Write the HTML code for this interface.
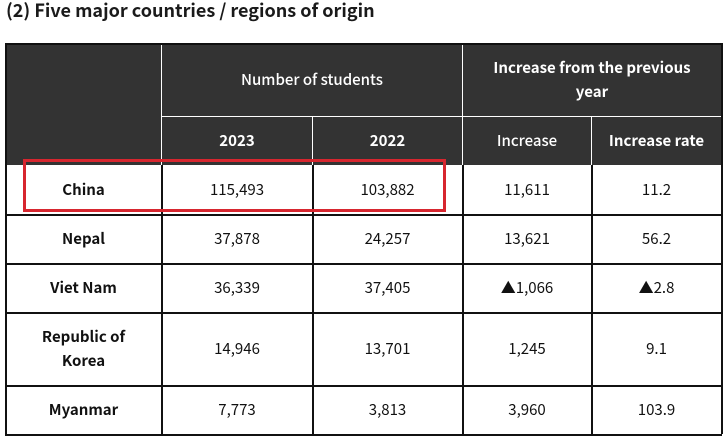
<!DOCTYPE html>
<html><head><meta charset="utf-8"><style>
html,body{margin:0;padding:0;background:#fff;width:725px;height:440px;overflow:hidden;}
body{position:relative;font-family:"Noto Sans CJK JP","Liberation Sans",sans-serif;color:#111;}
.t{position:absolute;left:6px;top:-3px;font-size:18px;font-weight:bold;color:#1a1a1a;white-space:nowrap;}
.c{position:absolute;box-sizing:border-box;display:flex;align-items:center;justify-content:center;text-align:center;font-size:15px;line-height:24px;}
.h{background:#333;color:#fff;font-weight:bold;}
.hl{position:absolute;background:#fff;}
.bl{position:absolute;background:#111;}
.b{font-weight:bold;}
</style></head><body>
<div class="t">(2) Five major countries / regions of origin</div>
<div>
<div class="c h" style="left:5px;top:43px;width:716px;height:122px"></div>
<div class="c h" style="left:162px;top:43px;width:300px;height:73px;font-weight:500">Number of students</div>
<div class="c h" style="left:463px;top:43px;width:258px;height:73px;padding:0 20px">Increase from the previous year</div>
<div class="c h" style="left:162px;top:117px;width:150px;height:48px">2023</div>
<div class="c h" style="left:313px;top:117px;width:149px;height:48px">2022</div>
<div class="c h" style="left:463px;top:117px;width:128px;height:48px;font-weight:500">Increase</div>
<div class="c h" style="left:592px;top:117px;width:129px;height:48px">Increase rate</div>
<div class="hl" style="left:161px;top:43px;width:1px;height:122px"></div>
<div class="hl" style="left:462px;top:43px;width:1px;height:122px"></div>
<div class="hl" style="left:312px;top:116px;width:1px;height:49px"></div>
<div class="hl" style="left:591px;top:116px;width:1px;height:49px"></div>
<div class="hl" style="left:161px;top:116px;width:560px;height:1px"></div>
<div id="rows"></div>
</div>
<svg style="position:absolute;left:0;top:0" width="725" height="440">
<rect x="24.5" y="160.5" width="420" height="50" fill="none" stroke="#d7262f" stroke-width="3"/>
</svg>
<script>
const countries=["China","Nepal","Viet Nam","Republic of Korea","Myanmar"];
const students2023=["115,493","37,878","36,339","14,946","7,773"];
const students2022=["103,882","24,257","37,405","13,701","3,813"];
const increases=["11,611","13,621","▲1,066","1,245","3,960"];
const rates=["11.2","56.2","▲2.8","9.1","103.9"];
const rowLines=[165,214,263,312,385,434];
const cols=[5,161,312,462,591,721];
const host=document.getElementById('rows');
for(let i=0;i<countries.length;i++){
  const vals=[countries[i],students2023[i],students2022[i],increases[i],rates[i]];
  for(let j=0;j<5;j++){
    const d=document.createElement('div');
    d.className='c'+(j===0?' b':'');
    d.style.left=(cols[j]+1)+'px';d.style.top=(rowLines[i]+1)+'px';
    d.style.width=(cols[j+1]-cols[j]-1)+'px';d.style.height=(rowLines[i+1]-rowLines[i]-1)+'px';
    if(j===0){d.style.padding='0 20px';}
    d.textContent=vals[j];
    
    
    host.appendChild(d);
  }
  const l=document.createElement('div');
  l.className='bl';l.style.left='5px';l.style.top=rowLines[i+1]+'px';l.style.width='717px';l.style.height='1.5px';
  
  
  host.appendChild(l);
}
for(const x of cols){
  const v=document.createElement('div');
  v.className='bl';v.style.left=x+'px';v.style.top=(x===5||x===721?43:165)+'px';v.style.width='1.5px';v.style.height=(x===5||x===721?391:269)+'px';
  
  
  host.appendChild(v);
}
const topBorder=document.createElement('div');
topBorder.className='bl';topBorder.style.left='5px';topBorder.style.top='43px';topBorder.style.width='717px';topBorder.style.height='1.5px';


host.appendChild(topBorder);
</script>
</body></html>
